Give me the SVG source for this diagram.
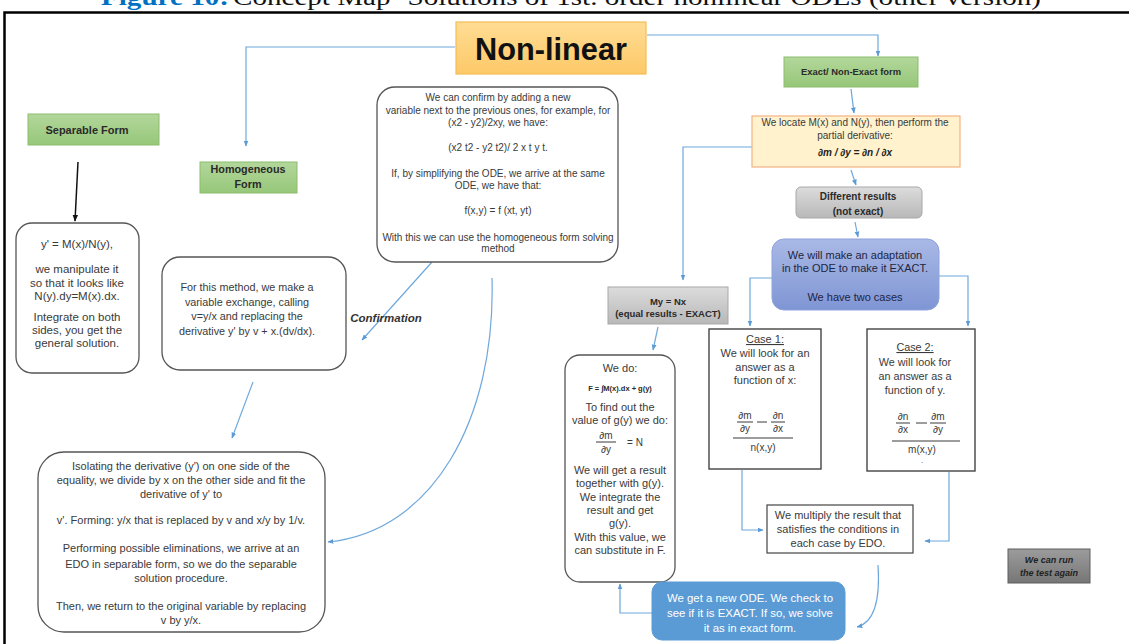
<svg xmlns="http://www.w3.org/2000/svg" width="1129" height="644" viewBox="0 0 1129 644">
<defs>
<style>
.t{font-family:"Liberation Sans",Arial,sans-serif;fill:#3a3a3a;text-anchor:middle;font-size:10px}
.b{font-weight:bold;fill:#2a2a2a}
.box{fill:#ffffff;stroke:#555;stroke-width:1.3}
.sq{fill:#ffffff;stroke:#444;stroke-width:1.4}
.green{fill:url(#gGreen);stroke:#8cbd6c;stroke-width:1}
.gray{fill:url(#gGray);stroke:#a8a8a8;stroke-width:1}
.c{fill:none;stroke:#6fa8dc;stroke-width:1.2;marker-end:url(#ah)}
.fl{stroke:#3a3a3a;stroke-width:1}
</style>
<marker id="ah" viewBox="0 0 10 10" refX="9" refY="5" markerWidth="6" markerHeight="6" orient="auto-start-reverse" markerUnits="userSpaceOnUse"><path d="M0,1 L10,5 L0,9 z" fill="#5b9bd5"/></marker>
<marker id="ahk" viewBox="0 0 10 10" refX="9" refY="5" markerWidth="7" markerHeight="7" orient="auto" markerUnits="userSpaceOnUse"><path d="M0,1 L10,5 L0,9 z" fill="#111"/></marker>
<linearGradient id="gGreen" x1="0" y1="0" x2="0" y2="1"><stop offset="0" stop-color="#b3d79b"/><stop offset="1" stop-color="#96c779"/></linearGradient>
<linearGradient id="gGray" x1="0" y1="0" x2="0" y2="1"><stop offset="0" stop-color="#dcdcdc"/><stop offset="1" stop-color="#b8b8b8"/></linearGradient>
<linearGradient id="gOrange" x1="0" y1="0" x2="0" y2="1"><stop offset="0" stop-color="#ffdc94"/><stop offset="1" stop-color="#fdc968"/></linearGradient>
<linearGradient id="gPurple" x1="0" y1="0" x2="0" y2="1"><stop offset="0" stop-color="#a9b9e6"/><stop offset="1" stop-color="#7f95d4"/></linearGradient>
<linearGradient id="gDark" x1="0" y1="0" x2="0" y2="1"><stop offset="0" stop-color="#9c9c9c"/><stop offset="1" stop-color="#767676"/></linearGradient>
</defs>
<rect width="1129" height="644" fill="#ffffff"/>
<!-- title (cut off at top in the reference) -->
<text x="101" y="5" font-family="'Liberation Serif',serif" font-size="24" font-weight="bold" fill="#0070c0" textLength="128" lengthAdjust="spacingAndGlyphs">Figure 10:</text>
<text x="233" y="5" font-family="'Liberation Serif',serif" font-size="24" fill="#111" textLength="808" lengthAdjust="spacingAndGlyphs">Concept Map- Solutions of 1st. order nonlinear ODEs (other version)</text>
<!-- frame -->
<rect x="4.5" y="12.5" width="1130" height="640" fill="none" stroke="#000" stroke-width="2.5"/>

<g id="connectors">
<path class="c" d="M455,47 H246 V146"/>
<path class="c" d="M647,35 H878 V56"/>
<path class="c" d="M851,89 L854,113"/>
<path class="c" d="M752,147 H683 V280"/>
<path class="c" d="M851,170 L856,185"/>
<path class="c" d="M855,222 L858,237"/>
<path class="c" d="M772,278 H750 V326"/>
<path class="c" d="M939,276 H968 V326"/>
<path class="c" d="M658,327 L653,350"/>
<path class="c" d="M742,470 V530 H763"/>
<path class="c" d="M949,472 V541 H925"/>
<path class="c" d="M878,565 C880,595 876,622 857,627"/>
<path class="c" d="M652,613 H620 V584"/>
<path class="c" d="M432,262 L362,340"/>
<path class="c" d="M253,382 L232,438"/>
<path class="c" d="M492,278 C496,420 432,532 328,542"/>
<path d="M78,162 L75,221" fill="none" stroke="#111" stroke-width="1.5" marker-end="url(#ahk)"/>
</g>

<g id="nonlinear">
<rect x="456" y="22" width="190" height="52" fill="url(#gOrange)" stroke="#f3bd55" stroke-width="1.2"/>
<text class="t b" x="551" y="60" style="font-size:32px;fill:#111" textLength="152" lengthAdjust="spacingAndGlyphs">Non-linear</text>
</g>

<g id="separable">
<rect class="green" x="28" y="114" width="131" height="31"/>
<text class="t b" x="87" y="134" style="font-size:11px">Separable Form</text>
</g>

<g id="separable-text">
<rect class="box" x="16" y="223" width="123" height="150" rx="16"/>
<text class="t" style="font-size:11.5px"><tspan x="77" y="248">y' = M(x)/N(y),</tspan><tspan x="77" y="273">we manipulate it</tspan><tspan x="77" y="287">so that it looks like</tspan><tspan x="77" y="300">N(y).dy=M(x).dx.</tspan><tspan x="77" y="321">Integrate on both</tspan><tspan x="77" y="334">sides, you get the</tspan><tspan x="77" y="347">general solution.</tspan></text>
</g>

<g id="homogeneous">
<rect class="green" x="200" y="162" width="97" height="31"/>
<text class="t b" style="font-size:10.8px"><tspan x="248" y="173">Homogeneous</tspan><tspan x="248" y="188">Form</tspan></text>
</g>

<g id="method">
<rect class="box" x="162" y="257" width="184" height="113" rx="18"/>
<text class="t" style="font-size:10.8px"><tspan x="247" y="291">For this method,  we make a</tspan><tspan x="247" y="306">variable exchange, calling</tspan><tspan x="247" y="320">v=y/x and replacing the</tspan><tspan x="247" y="335">derivative y' by v + x.(dv/dx).</tspan></text>
</g>

<g id="confirm">
<rect class="box" x="377" y="87" width="241" height="175" rx="18"/>
<text class="t" style="font-size:10px"><tspan x="498" y="101">We can confirm by adding a new</tspan><tspan x="498" y="114">variable next to the previous ones, for example, for</tspan><tspan x="498" y="126">(x2 - y2)/2xy, we have:</tspan><tspan x="498" y="151">(x2 t2 - y2 t2)/ 2 x t y t.</tspan><tspan x="498" y="177">If, by simplifying the ODE, we arrive at the same</tspan><tspan x="498" y="189">ODE, we have that:</tspan><tspan x="498" y="214">f(x,y) = f (xt, yt)</tspan><tspan x="498" y="241">With this we can use the homogeneous form solving</tspan><tspan x="498" y="252">method</tspan></text>
</g>

<g id="confirmation-label">
<text class="t b" x="386" y="322" style="font-size:11.5px;font-style:italic;fill:#333">Confirmation</text>
</g>

<g id="isolating">
<rect class="box" x="38" y="452" width="287" height="180" rx="26"/>
<text class="t" style="font-size:11px"><tspan x="181" y="470">Isolating the derivative (y') on one side of the</tspan><tspan x="181" y="484">equality, we divide by x on the  other side and fit the</tspan><tspan x="181" y="498">derivative of y' to</tspan><tspan x="181" y="524">v'. Forming: y/x that is replaced by v and x/y by 1/v.</tspan><tspan x="181" y="552">Performing possible eliminations, we arrive at an</tspan><tspan x="181" y="568">EDO in separable form, so we do the separable</tspan><tspan x="181" y="582">solution procedure.</tspan><tspan x="181" y="610">Then,  we  return to the original variable by replacing</tspan><tspan x="181" y="624">v by y/x.</tspan></text>
</g>

<g id="exact">
<rect class="green" x="784" y="57" width="134" height="30"/>
<text class="t b" x="851" y="75" style="font-size:9.4px">Exact/ Non-Exact form</text>
</g>

<g id="locate">
<rect x="752" y="116" width="208" height="51" fill="#fff2cc" stroke="#f4b183" stroke-width="1.2"/>
<text class="t" style="font-size:10px"><tspan x="855" y="126">We locate M(x) and N(y), then perform the</tspan><tspan x="855" y="139">partial derivative:</tspan></text>
<text class="t b" x="855" y="156" style="font-size:10px;font-style:italic;fill:#222">∂m / ∂y = ∂n / ∂x</text>
</g>

<g id="different">
<rect class="gray" x="796" y="187" width="126" height="31" rx="5"/>
<text class="t b" style="font-size:10px"><tspan x="858" y="200">Different results</tspan><tspan x="858" y="215">(not exact)</tspan></text>
</g>

<g id="adaptation">
<rect x="772" y="239" width="167" height="71" rx="12" fill="url(#gPurple)" stroke="#8fa3dc" stroke-width="1"/>
<text class="t" style="font-size:11px;fill:#1e2540"><tspan x="855" y="259">We will make an adaptation</tspan><tspan x="855" y="272">in the ODE to make it EXACT.</tspan><tspan x="855" y="301">We have two cases</tspan></text>
</g>

<g id="mynx">
<rect class="gray" x="608" y="287" width="120" height="37"/>
<text class="t b" style="font-size:9.5px"><tspan x="668" y="305">My = Nx</tspan><tspan x="668" y="317">(equal results - EXACT)</tspan></text>
</g>

<g id="wedo">
<rect class="box" x="565" y="355" width="110" height="227" rx="15"/>
<text class="t" style="font-size:11px"><tspan x="620" y="372">We do:</tspan></text>
<text class="t b" x="620" y="391" style="font-size:7.5px">F = ∫M(x).dx + g(y)</text>
<text class="t" style="font-size:11px"><tspan x="620" y="411">To find out the</tspan><tspan x="620" y="424">value of g(y) we do:</tspan></text>
<text class="t" x="606" y="439" style="font-size:10px">∂m</text>
<line class="fl" x1="596" y1="442" x2="616" y2="442"/>
<text class="t" x="606" y="453" style="font-size:10px">∂y</text>
<text class="t" x="635" y="446" style="font-size:10px">=  N</text>
<text class="t" style="font-size:11px"><tspan x="620" y="474">We will get a result</tspan><tspan x="620" y="487">together  with g(y).</tspan><tspan x="620" y="501">We integrate the</tspan><tspan x="620" y="514">result and get</tspan><tspan x="620" y="527">g(y).</tspan><tspan x="620" y="541">With this value, we</tspan><tspan x="620" y="554">can substitute in F.</tspan></text>
</g>

<g id="case1">
<rect class="sq" x="709" y="329" width="112" height="140"/>
<text class="t" style="font-size:11px"><tspan x="765" y="343" text-decoration="underline">Case 1:</tspan><tspan x="765" y="357">We will look for an</tspan><tspan x="765" y="371">answer as a</tspan><tspan x="765" y="384">function of x:</tspan></text>
<text class="t" x="745" y="419" style="font-size:10px">∂m</text>
<line class="fl" x1="737" y1="422" x2="753" y2="422"/>
<text class="t" x="745" y="432" style="font-size:10px">∂y</text>
<line class="fl" x1="757" y1="422" x2="767" y2="422" stroke-width="1.8"/>
<text class="t" x="778" y="419" style="font-size:10px">∂n</text>
<line class="fl" x1="771" y1="422" x2="785" y2="422"/>
<text class="t" x="778" y="432" style="font-size:10px">∂x</text>
<line class="fl" x1="733" y1="438" x2="793" y2="438"/>
<text class="t" x="763" y="451" style="font-size:10px">n(x,y)</text>
</g>

<g id="case2">
<rect class="sq" x="867" y="329" width="108" height="142"/>
<text class="t" style="font-size:10.8px"><tspan x="915" y="351" text-decoration="underline">Case 2:</tspan><tspan x="915" y="366">We will look for</tspan><tspan x="915" y="380">an answer as a</tspan><tspan x="915" y="394">function of y.</tspan></text>
<text class="t" x="903" y="420" style="font-size:10px">∂n</text>
<line class="fl" x1="896" y1="423" x2="910" y2="423"/>
<text class="t" x="903" y="433" style="font-size:10px">∂x</text>
<line class="fl" x1="916" y1="423" x2="927" y2="423" stroke-width="1.8"/>
<text class="t" x="938" y="420" style="font-size:10px">∂m</text>
<line class="fl" x1="930" y1="423" x2="946" y2="423"/>
<text class="t" x="938" y="433" style="font-size:10px">∂y</text>
<line class="fl" x1="892" y1="441" x2="960" y2="441"/>
<text class="t" x="922" y="453" style="font-size:10px">m(x,y)</text>
<text class="t" x="922" y="463" style="font-size:8px">.</text>
</g>

<g id="multiply">
<rect class="sq" x="767" y="505" width="146" height="48" style="stroke-width:1.2"/>
<text class="t" style="font-size:11px"><tspan x="838" y="519">We multiply the  result that</tspan><tspan x="838" y="533">satisfies the conditions in</tspan><tspan x="838" y="547">each case by EDO.</tspan></text>
</g>

<g id="newode">
<rect x="652" y="582" width="193" height="58" rx="10" fill="#5b9bd5" stroke="#5b9bd5"/>
<text class="t" style="font-size:11.4px;fill:#fff"><tspan x="750" y="602">We get a new ODE. We check to</tspan><tspan x="750" y="617">see if it is EXACT. If so, we solve</tspan><tspan x="750" y="632">it as in exact form.</tspan></text>
</g>

<g id="runagain">
<rect x="1008" y="549" width="82" height="34" fill="url(#gDark)" stroke="#5e5e5e" stroke-width="1"/>
<text class="t b" style="font-size:9px;font-style:italic;fill:#222"><tspan x="1049" y="563">We can run</tspan><tspan x="1049" y="576">the test again</tspan></text>
</g>
</svg>
